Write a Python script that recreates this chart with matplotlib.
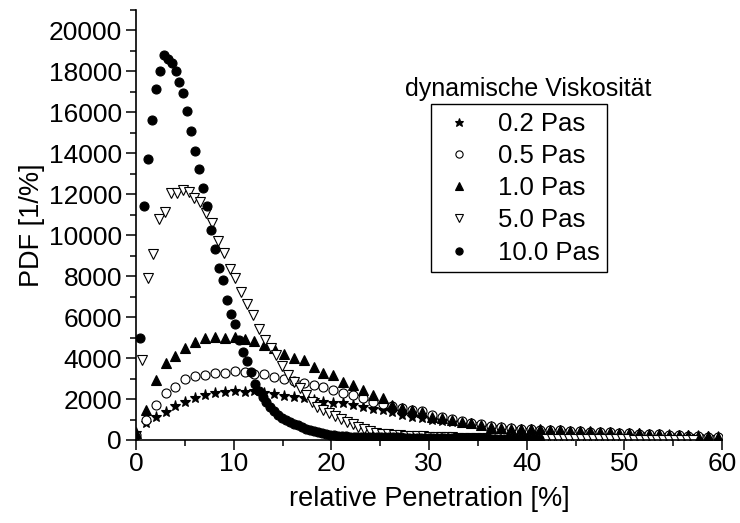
import numpy as np
import matplotlib.pyplot as plt
from matplotlib.ticker import MultipleLocator

plt.rcParams['font.family'] = ['Liberation Sans', 'DejaVu Sans']

# PDF values in units of 1000 [1/%]
pdf_02 = [0.35, 0.85, 1.14, 1.38, 1.66, 1.87, 2.03, 2.20, 2.28, 2.36,
          2.40, 2.36, 2.40, 2.28, 2.24, 2.15, 2.11, 2.03, 1.95, 1.87,
          1.79, 1.79, 1.71, 1.63, 1.50, 1.46, 1.38, 1.22, 1.14, 1.06,
          1.00, 0.95, 0.90, 0.84, 0.77, 0.70, 0.64, 0.58, 0.53, 0.50,
          0.48, 0.46, 0.44, 0.42, 0.40, 0.38, 0.36, 0.35, 0.33, 0.31,
          0.29, 0.28, 0.26, 0.24, 0.22, 0.21, 0.19, 0.18, 0.16, 0.15]
pdf_05 = [0.25, 0.98, 1.71, 2.28, 2.60, 2.96, 3.12, 3.17, 3.25, 3.25,
          3.38, 3.30, 3.24, 3.20, 3.09, 3.00, 2.90, 2.80, 2.70, 2.60,
          2.44, 2.31, 2.20, 2.03, 1.87, 1.75, 1.64, 1.55, 1.47, 1.40,
          1.20, 1.10, 1.02, 0.93, 0.85, 0.78, 0.70, 0.64, 0.58, 0.55,
          0.53, 0.51, 0.49, 0.47, 0.45, 0.43, 0.41, 0.39, 0.37, 0.35,
          0.33, 0.31, 0.29, 0.27, 0.25, 0.23, 0.21, 0.19, 0.17, 0.16]
pdf_10 = [0.35, 1.46, 2.93, 3.74, 4.10, 4.47, 4.80, 4.96, 5.01, 4.96,
          5.04, 4.91, 4.84, 4.63, 4.47, 4.20, 3.98, 3.90, 3.58, 3.28,
          3.17, 2.84, 2.68, 2.44, 2.20, 2.03, 1.71, 1.55, 1.46, 1.38,
          1.14, 1.06, 0.98, 0.89, 0.81, 0.73, 0.65, 0.60, 0.55, 0.53,
          0.55, 0.52, 0.50, 0.48, 0.46, 0.44, 0.42, 0.40, 0.38, 0.36,
          0.34, 0.32, 0.30, 0.28, 0.26, 0.24, 0.22, 0.20, 0.18, 0.16]
pdf_50 = [3.90, 7.90, 9.07, 10.77, 11.14, 12.03, 12.06, 12.20, 12.10, 11.80,
          11.63, 11.06, 10.60, 9.72, 9.10, 8.35, 7.89, 7.20, 6.65, 6.10,
          5.40, 4.90, 4.47, 4.15, 3.60, 3.15, 2.84, 2.52, 2.20, 1.87,
          1.63, 1.46, 1.30, 1.17, 1.02, 0.90, 0.76, 0.64, 0.53, 0.42,
          0.36, 0.31, 0.28, 0.25, 0.23, 0.21, 0.20, 0.19, 0.18, 0.17,
          0.16, 0.15, 0.14, 0.13, 0.12, 0.12, 0.11, 0.10, 0.10, 0.09,
          0.09, 0.08, 0.08, 0.07, 0.07, 0.07, 0.06, 0.06, 0.06, 0.05,
          0.05, 0.05, 0.05, 0.04, 0.04, 0.04, 0.04, 0.04, 0.03, 0.03,
          0.03, 0.03, 0.03, 0.03, 0.02, 0.02, 0.02, 0.02, 0.02, 0.02,
          0.02, 0.02, 0.02, 0.02, 0.02]
pdf_100 = [5.00, 11.40, 13.70, 15.60, 17.10, 18.00, 18.80, 18.60, 18.40, 18.00,
           17.45, 16.95, 16.05, 15.05, 14.10, 13.20, 12.30, 11.40, 10.25, 9.30,
           8.40, 7.80, 6.85, 6.15, 5.65, 4.90, 4.30, 3.85, 3.30, 2.75,
           2.40, 2.08, 1.83, 1.60, 1.42, 1.22, 1.08, 0.97, 0.88, 0.79,
           0.71, 0.63, 0.56, 0.49, 0.44, 0.39, 0.34, 0.30, 0.26, 0.23,
           0.21, 0.19, 0.18, 0.17, 0.17, 0.16, 0.16, 0.15, 0.15, 0.15,
           0.14, 0.14, 0.14, 0.13, 0.13, 0.13, 0.13, 0.12, 0.12, 0.12,
           0.12, 0.11, 0.11, 0.11, 0.11, 0.10, 0.10, 0.10, 0.10, 0.09,
           0.09, 0.09, 0.09, 0.09, 0.08, 0.08, 0.08, 0.08, 0.08, 0.07,
           0.07, 0.07, 0.07, 0.07, 0.06, 0.06, 0.06, 0.06, 0.06, 0.05,
           0.05, 0.05]

# bin grids (start, width) of the penetration axis [%]
grid_02 = (0.0, 1.01)
grid_05 = (0.0, 1.01)
grid_10 = (0.0, 1.01)
grid_50 = (0.58, 0.60)
grid_100 = (0.40, 0.405)

labels = ['0.2 Pas', '0.5 Pas', '1.0 Pas', '5.0 Pas', '10.0 Pas']


def xgrid(grid, n):
    return grid[0] + grid[1] * np.arange(n)


fig = plt.figure(figsize=(7.4, 5.23), dpi=100)
ax = fig.add_axes([0.1838, 0.1587, 0.7919, 0.8231])

series = [
    (grid_02, pdf_02, dict(marker='*', ms=8, mfc='black', mec='black')),
    (grid_05, pdf_05, dict(marker='o', ms=6.5, mfc='white', mec='black')),
    (grid_10, pdf_10, dict(marker='^', ms=7.5, mfc='black', mec='black')),
    (grid_50, pdf_50, dict(marker='v', ms=7.5, mfc='white', mec='black')),
    (grid_100, pdf_100, dict(marker='o', ms=6.5, mfc='black', mec='black')),
]

for (grid, vals, style), lab in zip(series, labels):
    y = np.array(vals) * 1000
    ax.plot(xgrid(grid, len(y)), y, linestyle='none', mew=0.8, label=lab, **style)

ax.set_xlim(0, 60)
ax.set_ylim(0, 21000)
ax.xaxis.set_major_locator(MultipleLocator(10))
ax.xaxis.set_minor_locator(MultipleLocator(5))
ax.yaxis.set_minor_locator(MultipleLocator(1000))
ax.set_yticks(np.arange(0, 20001, 2000))

for side in ['top', 'right']:
    ax.spines[side].set_visible(False)
for side in ['left', 'bottom']:
    ax.spines[side].set_linewidth(1.2)

ax.tick_params(which='major', direction='out', length=7, width=1.1, labelsize=19, pad=2)
ax.tick_params(axis='y', which='major', pad=3)
ax.tick_params(which='minor', direction='out', length=4, width=1.1)

ax.set_xlabel('relative Penetration [%]', fontsize=19.5, labelpad=7)
ax.set_ylabel('PDF [1/%]', fontsize=19.5, labelpad=3)

ax.text(0.67, 0.815, 'dynamische Viskosität', transform=ax.transAxes,
        ha='center', va='center', fontsize=18)
leg = ax.legend(loc='upper left', bbox_to_anchor=(0.5034, 0.7805), borderaxespad=0,
                fontsize=18.5, markerscale=0.8, handlelength=1.6, handletextpad=0.7,
                labelspacing=0.32, borderpad=0.3, fancybox=False, framealpha=1,
                edgecolor='black')
leg.get_frame().set_linewidth(1.0)

fig.savefig('out.png', dpi=100)
